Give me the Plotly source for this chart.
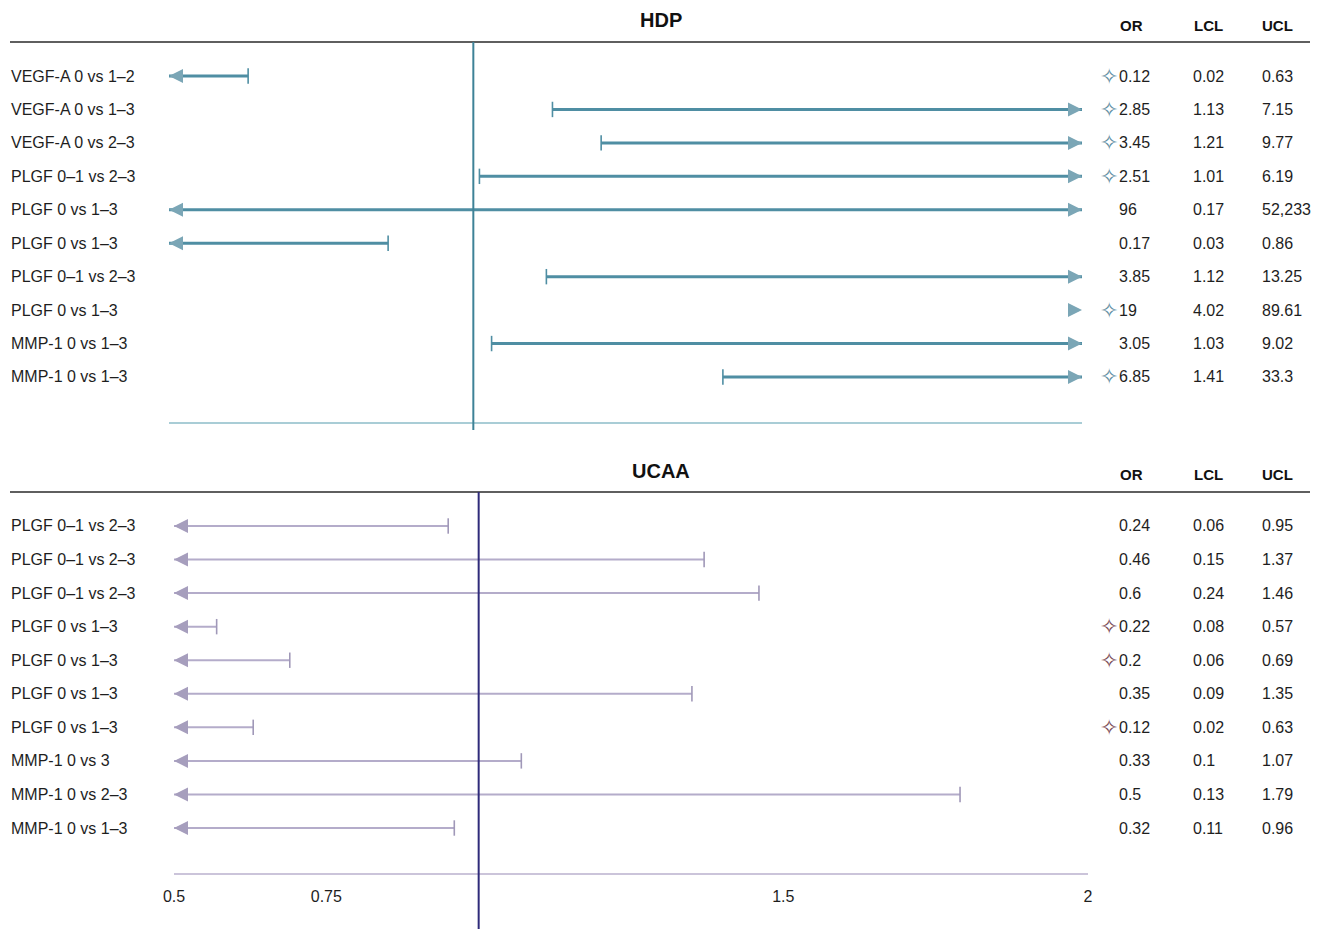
import plotly.graph_objects as go

# ---------------- data ----------------
hdp_labels = ["VEGF-A 0 vs 1–2", "VEGF-A 0 vs 1–3", "VEGF-A 0 vs 2–3", "PLGF 0–1 vs 2–3",
              "PLGF 0 vs 1–3", "PLGF 0 vs 1–3", "PLGF 0–1 vs 2–3", "PLGF 0 vs 1–3",
              "MMP-1 0 vs 1–3", "MMP-1 0 vs 1–3"]
hdp_or = [0.12, 2.85, 3.45, 2.51, 96, 0.17, 3.85, 19, 3.05, 6.85]
hdp_lcl = [0.02, 1.13, 1.21, 1.01, 0.17, 0.03, 1.12, 4.02, 1.03, 1.41]
hdp_ucl = [0.63, 7.15, 9.77, 6.19, 52233, 0.86, 13.25, 89.61, 9.02, 33.3]
hdp_sig = [True, True, True, True, False, False, False, True, False, True]

ucaa_labels = ["PLGF 0–1 vs 2–3", "PLGF 0–1 vs 2–3", "PLGF 0–1 vs 2–3", "PLGF 0 vs 1–3",
               "PLGF 0 vs 1–3", "PLGF 0 vs 1–3", "PLGF 0 vs 1–3", "MMP-1 0 vs 3",
               "MMP-1 0 vs 2–3", "MMP-1 0 vs 1–3"]
ucaa_or = [0.24, 0.46, 0.6, 0.22, 0.2, 0.35, 0.12, 0.33, 0.5, 0.32]
ucaa_lcl = [0.06, 0.15, 0.24, 0.08, 0.06, 0.09, 0.02, 0.1, 0.13, 0.11]
ucaa_ucl = [0.95, 1.37, 1.46, 0.57, 0.69, 1.35, 0.63, 1.07, 1.79, 0.96]
ucaa_sig = [False, False, False, True, True, False, True, False, False, False]

x_range = [0.5, 2]
tick_vals = [0.5, 0.75, 1.5, 2]
tick_text = ["0.5", "0.75", "1.5", "2"]
null_value = 1

# ---------------- layout helpers ----------------
W, H = 1324, 929
FONT = "Liberation Sans, Arial, sans-serif"
TXT = "#1e1e1e"


def py(p):
    return 1 - p / H


def fmt(v):
    return format(v, ",g")


fig = go.Figure()
annotations = []
shapes = []

panels = [
    dict(title="HDP", labels=hdp_labels, orv=hdp_or, lcl=hdp_lcl, ucl=hdp_ucl, sig=hdp_sig,
         xa="x", ya="y", shaft="#4f8ea3", shaft_w=3, head="#7ba6b6", cap="#4f8ea3",
         star="#5f8ea3", vline="#3e8297", title_y=20, head_y=25, rule_y=42, vbot=430),
    dict(title="UCAA", labels=ucaa_labels, orv=ucaa_or, lcl=ucaa_lcl, ucl=ucaa_ucl, sig=ucaa_sig,
         xa="x2", ya="y2", shaft="#b4acca", shaft_w=2, head="#a69ebd", cap="#a098b8",
         star="#7a4a56", vline="#2f2b7a", title_y=471, head_y=475, rule_y=492, vbot=929),
]

lo, hi = x_range
for p in panels:
    n = len(p["labels"])
    sx, sy = [], []
    cx, cy = [], []
    for i in range(n):
        y = -i
        a, b = p["lcl"][i], p["ucl"][i]
        x0, x1 = max(a, lo), min(b, hi)
        if x0 < x1:
            sx += [x0, x1, None]
            sy += [y, y, None]
        if lo <= a <= hi:
            cx.append(a); cy.append(y)
        if lo <= b <= hi:
            cx.append(b); cy.append(y)
        if a < lo:
            annotations.append(dict(x=lo, y=y, xref=p["xa"], yref=p["ya"], ax=7, ay=0,
                                    axref="pixel", ayref="pixel", text="", showarrow=True,
                                    arrowhead=2, arrowsize=1.0, arrowwidth=2.8,
                                    arrowcolor=p["head"]))
        if b > hi:
            annotations.append(dict(x=hi, y=y, xref=p["xa"], yref=p["ya"], ax=-7, ay=0,
                                    axref="pixel", ayref="pixel", text="", showarrow=True,
                                    arrowhead=2, arrowsize=1.0, arrowwidth=2.8,
                                    arrowcolor=p["head"]))
        # row label
        annotations.append(dict(x=9 / W, y=y, xref="paper", yref=p["ya"], text=p["labels"][i],
                                showarrow=False, xanchor="left", yanchor="middle",
                                font=dict(family=FONT, size=16, color=TXT)))
        # table values
        for xpx, val in [(1117, p["orv"][i]), (1191, p["lcl"][i]), (1260, p["ucl"][i])]:
            annotations.append(dict(x=xpx / W, y=y, xref="paper", yref=p["ya"], text=fmt(val),
                                    showarrow=False, xanchor="left", yanchor="middle",
                                    font=dict(family=FONT, size=16, color=TXT)))
        if p["sig"][i]:
            annotations.append(dict(x=1109 / W, y=y, xref="paper", yref=p["ya"], text="✧",
                                    showarrow=False, xanchor="center", yanchor="middle",
                                    font=dict(family="DejaVu Sans", size=22, color=p["star"])))

    fig.add_trace(go.Scatter(x=sx, y=sy, xaxis=p["xa"], yaxis=p["ya"], mode="lines",
                             line=dict(color=p["shaft"], width=p["shaft_w"]),
                             hoverinfo="skip", cliponaxis=False))
    fig.add_trace(go.Scatter(x=cx, y=cy, xaxis=p["xa"], yaxis=p["ya"], mode="markers",
                             marker=dict(symbol="line-ns", size=11,
                                         line=dict(color=p["cap"], width=1.6)),
                             hoverinfo="skip", cliponaxis=False))

    # title and headers
    annotations.append(dict(x=661 / W, y=py(p["title_y"]), xref="paper", yref="paper",
                            text="<b>%s</b>" % p["title"], showarrow=False,
                            xanchor="center", yanchor="middle",
                            font=dict(family=FONT, size=20, color="#111")))
    for xpx, t in [(1131, "OR"), (1208, "LCL"), (1277, "UCL")]:
        annotations.append(dict(x=xpx / W, y=py(p["head_y"]), xref="paper", yref="paper",
                                text="<b>%s</b>" % t, showarrow=False,
                                xanchor="center", yanchor="middle",
                                font=dict(family=FONT, size=15, color="#111")))
    # header rule
    shapes.append(dict(type="line", xref="paper", yref="paper", x0=10 / W, x1=1310 / W,
                       y0=py(p["rule_y"]), y1=py(p["rule_y"]),
                       line=dict(color="#2a2a2a", width=1.3)))
    # line of no effect
    shapes.append(dict(type="line", xref=p["xa"], yref="paper", x0=null_value, x1=null_value,
                       y0=py(p["vbot"]), y1=py(p["rule_y"]),
                       line=dict(color=p["vline"], width=2)))

n1 = len(hdp_labels)
n2 = len(ucaa_labels)
fig.update_layout(
    width=W, height=H, margin=dict(l=0, r=0, t=0, b=0, autoexpand=False),
    paper_bgcolor="white", plot_bgcolor="white", showlegend=False,
    annotations=annotations, shapes=shapes,
    xaxis=dict(domain=[169 / W, 1082 / W], range=x_range, anchor="y", showline=True,
               linecolor="#a9cdd6", linewidth=1.5, showgrid=False, zeroline=False,
               showticklabels=False, ticks=""),
    yaxis=dict(domain=[py(422), py(42)], range=[-(n1 - 1) - 1.346, 1.017], visible=False,
               fixedrange=True),
    xaxis2=dict(domain=[174 / W, 1088 / W], range=x_range, anchor="y2", showline=True,
                linecolor="#cbc4da", linewidth=1.5, showgrid=False, zeroline=False,
                tickvals=tick_vals, ticktext=tick_text, ticks="outside", ticklen=8,
                tickcolor="rgba(0,0,0,0)",
                tickfont=dict(family=FONT, size=16, color=TXT)),
    yaxis2=dict(domain=[py(873), py(492)], range=[-(n2 - 1) - 1.341, 1.013], visible=False,
                fixedrange=True),
)

fig.write_html(
    "out.html",
    config={"displayModeBar": False},
    post_script="document.body.style.margin='0';document.body.style.padding='0';"
                "document.body.style.overflow='hidden';",
)
